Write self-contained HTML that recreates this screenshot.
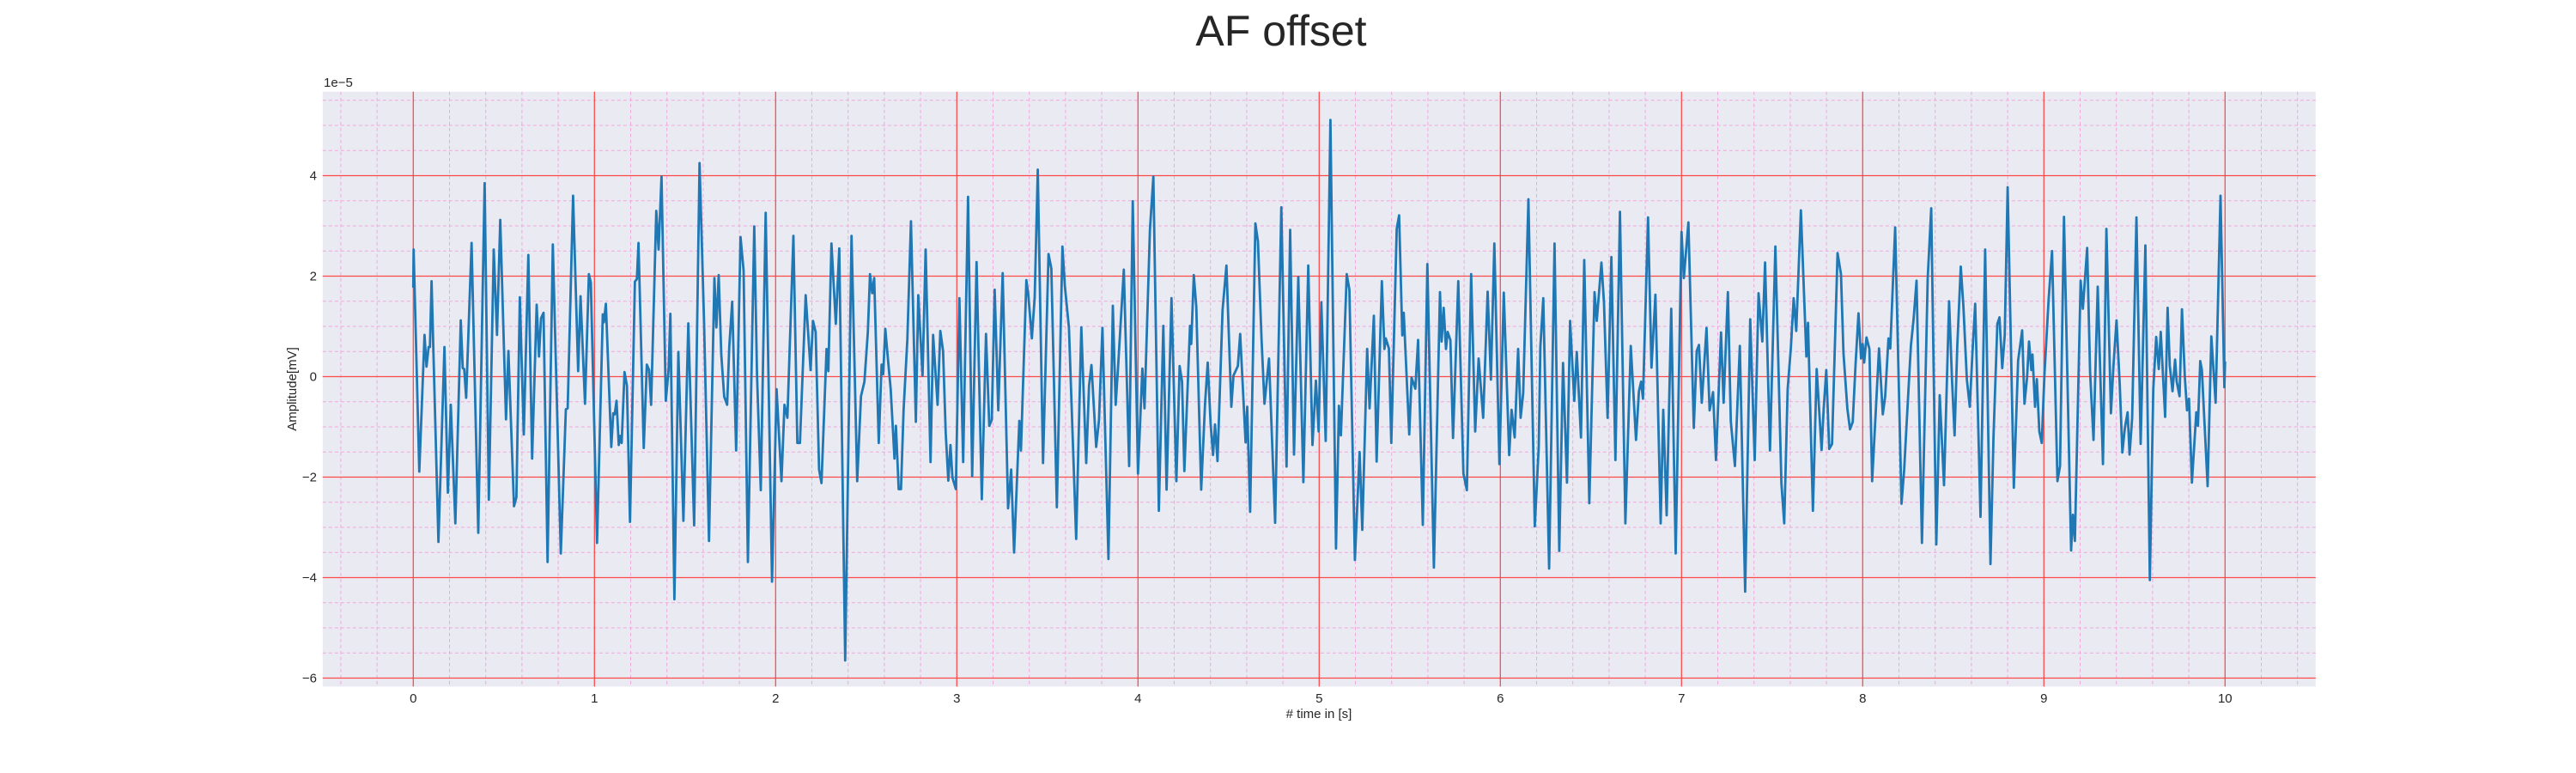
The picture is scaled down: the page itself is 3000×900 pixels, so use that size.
<!DOCTYPE html>
<html><head><meta charset="utf-8"><style>
html,body{margin:0;padding:0;background:#fff;}
svg{display:block;font-family:"Liberation Sans",Arial,sans-serif;}
</style></head><body>
<svg id="chart" width="3000" height="900" viewBox="0 0 3000 900" xmlns="http://www.w3.org/2000/svg">
<rect x="0" y="0" width="3000" height="900" fill="#ffffff"/>
<text x="1492" y="53" font-size="50" fill="#262626" text-anchor="middle">AF offset</text>
<rect x="375.8" y="106.8" width="2321" height="692.6" fill="#eaeaf2"/>
<g id="grid"></g>
<g id="series"></g>
<g id="ticks"></g>
<text x="377" y="101" font-size="15" fill="#262626">1e−5</text>
<text x="0" y="0" font-size="15" fill="#262626" text-anchor="middle" transform="translate(345,453) rotate(-90)">Amplitude[mV]</text>
<text x="1536" y="836" font-size="15" fill="#262626" text-anchor="middle"># time in [s]</text>
</svg>
<script>
const xTicks = [0,1,2,3,4,5,6,7,8,9,10];
const yTicks = [-6,-4,-2,0,2,4];
const yTickLabels = ["−6","−4","−2","0","2","4"];
const times = [0.0,0.002,0.033,0.062,0.073,0.085,0.092,0.101,0.139,0.172,0.191,0.207,0.232,0.262,0.273,0.281,0.292,0.322,0.359,0.394,0.417,0.444,0.462,0.48,0.512,0.525,0.556,0.569,0.588,0.61,0.635,0.656,0.681,0.694,0.705,0.719,0.741,0.77,0.814,0.842,0.852,0.882,0.91,0.923,0.948,0.969,0.98,1.014,1.046,1.052,1.063,1.093,1.104,1.112,1.122,1.134,1.142,1.15,1.166,1.179,1.196,1.223,1.234,1.243,1.272,1.289,1.302,1.313,1.341,1.354,1.37,1.394,1.409,1.419,1.441,1.463,1.491,1.518,1.55,1.58,1.605,1.632,1.662,1.673,1.686,1.70,
1.716,1.732,1.744,1.76,1.782,1.806,1.823,1.847,1.882,1.897,1.918,1.945,1.98,2.005,2.032,2.049,2.065,2.098,2.12,2.134,2.166,2.193,2.206,2.221,2.24,2.253,2.281,2.291,2.308,2.332,2.351,2.384,2.419,2.45,2.471,2.49,2.509,2.521,2.533,2.544,2.569,2.585,2.594,2.605,2.621,2.635,2.656,2.664,2.679,2.692,2.706,2.727,2.747,2.774,2.787,2.811,2.828,2.855,2.869,2.894,2.909,2.924,2.939,2.953,2.965,2.976,2.995,3.014,3.035,3.062,3.085,3.109,3.138,3.161,3.179,3.193,3.209,3.229,3.253,3.283,3.3,3.316,3.345,3.354,3.384,3.395,3.414,3.43,3.447,3.476,3.506,3.522,3.552,3.583,3.596,3.619,3.659,3.687,3.714,3.73,3.743,3.769,3.785,
3.804,3.837,3.861,3.877,3.889,3.922,3.951,3.971,4.0,4.024,4.036,4.066,4.085,4.115,4.14,4.158,4.185,4.212,4.23,4.243,4.256,4.287,4.294,4.308,4.322,4.349,4.37,4.385,4.401,4.414,4.425,4.439,4.467,4.488,4.515,4.527,4.551,4.564,4.594,4.603,4.619,4.648,4.662,4.682,4.698,4.723,4.757,4.791,4.82,4.84,4.861,4.885,4.913,4.94,4.963,4.982,4.997,5.012,5.036,5.062,5.093,5.109,5.12,5.152,5.167,5.197,5.223,5.238,5.265,5.278,5.302,5.317,5.346,5.36,5.368,5.385,5.398,5.428,5.441,5.459,5.467,5.497,5.51,5.531,5.546,5.572,5.597,5.633,5.667,5.676,5.687,5.7,5.709,5.724,5.739,5.768,5.796,5.815,5.839,5.861,
5.88,5.905,5.93,5.948,5.967,5.995,6.019,6.049,6.062,6.079,6.098,6.112,6.126,6.155,6.19,6.212,6.221,6.237,6.269,6.299,6.325,6.346,6.368,6.385,6.408,6.422,6.445,6.463,6.491,6.52,6.532,6.558,6.572,6.592,6.613,6.635,6.66,6.69,6.72,6.749,6.765,6.777,6.787,6.815,6.834,6.856,6.885,6.899,6.918,6.943,6.968,7.0,7.013,7.038,7.068,7.084,7.096,7.112,7.138,7.155,7.174,7.19,7.218,7.232,7.256,7.272,7.295,7.322,7.351,7.379,7.404,7.425,7.446,7.461,7.488,7.518,7.551,7.567,7.586,7.604,7.619,7.633,7.659,7.689,7.698,7.725,7.746,7.773,7.785,7.799,7.815,7.831,7.861,7.88,7.894,7.915,7.93,
7.945,7.961,7.977,7.991,8.0,8.008,8.021,8.037,8.052,8.09,8.111,8.124,8.142,8.152,8.179,8.214,8.229,8.24,8.266,8.281,8.297,8.327,8.359,8.378,8.406,8.425,8.449,8.477,8.493,8.507,8.522,8.541,8.556,8.575,8.591,8.605,8.621,8.65,8.676,8.705,8.722,8.743,8.755,8.77,8.784,8.8,8.834,8.858,8.88,8.893,8.907,8.918,8.931,8.937,8.951,8.961,8.975,8.988,9.003,9.026,9.045,9.075,9.089,9.111,9.15,9.16,9.171,9.203,9.215,9.239,9.255,9.274,9.297,9.326,9.345,9.37,9.384,9.401,9.419,9.433,9.447,9.462,9.473,9.487,9.511,9.534,9.56,9.585,9.604,9.62,9.634,9.645,9.669,9.683,9.695,9.71,9.724,9.733,9.749,9.762,9.778,9.79,9.801,9.817,9.841,9.85,9.863,9.872,9.904,9.924,9.948,9.975,9.996,10.0];
const amplitudes = [1.77,2.53,-1.89,0.83,0.2,0.59,0.59,1.9,-3.29,0.59,-2.31,-0.56,-2.92,1.12,0.17,0.15,-0.42,2.66,-3.11,3.85,-2.45,2.53,0.83,3.12,-0.85,0.51,-2.58,-2.4,1.58,-1.15,2.42,-1.63,1.43,0.4,1.16,1.27,-3.69,2.63,-3.52,-0.65,-0.63,3.6,0.11,1.6,-0.54,2.04,1.87,-3.31,1.24,1.08,1.45,-1.4,-0.73,-0.75,-0.48,-1.36,-1.18,-1.32,0.09,-0.18,-2.89,1.89,1.94,2.66,-1.42,0.24,0.13,-0.56,3.3,2.53,3.98,-0.48,0.13,1.25,-4.43,0.49,-2.87,1.06,-2.96,4.25,1.05,-3.27,1.96,0.98,2.02,0.44,
-0.4,-0.56,0.59,1.49,-1.47,2.78,2.11,-3.69,2.99,0.05,-2.26,3.26,-4.08,-0.25,-2.08,-0.56,-0.82,2.8,-1.32,-1.32,1.62,0.13,1.11,0.89,-1.85,-2.12,0.55,0.11,2.65,1.05,2.55,-5.65,2.8,-2.08,-0.39,-0.1,0.89,2.04,1.66,1.96,-1.32,0.24,0.05,0.95,0.31,-0.25,-1.63,-0.98,-2.24,-2.24,-0.67,0.74,3.09,-0.9,1.62,0.02,2.53,-1.7,0.83,-0.56,0.91,0.51,-1.13,-2.07,-1.36,-2.01,-2.24,1.56,-1.7,3.58,-1.98,2.28,-2.44,0.85,-0.98,-0.86,1.73,-0.67,2.06,-2.62,-1.85,-3.5,-0.88,-1.47,1.92,1.62,0.76,1.58,4.12,-1.72,2.44,2.15,-2.6,2.59,1.81,0.97,-3.23,0.98,-1.72,-0.18,0.23,-1.4,-0.86,
0.97,-3.63,1.41,-0.56,0.13,2.13,-1.78,3.49,-1.93,0.16,-0.63,2.92,3.98,-2.67,1.01,-2.25,1.56,-2.08,0.21,-0.1,-1.88,1.01,0.65,2.02,1.39,-2.25,-0.54,0.28,-0.94,-1.56,-0.95,-1.68,1.33,2.21,-0.6,0.02,0.21,0.85,-1.31,-0.6,-2.69,3.05,2.69,0.74,-0.54,0.36,-2.91,3.37,-1.79,2.92,-1.55,1.98,-2.1,2.21,-1.36,-0.08,-1.09,1.48,-1.28,5.11,-3.42,-0.58,-1.17,2.04,1.73,-3.65,-1.5,-3.05,0.55,-0.63,1.21,-1.69,1.9,0.55,0.76,0.56,-1.32,2.94,3.21,0.82,1.27,-1.15,-0.02,-0.24,0.73,-2.95,2.24,-3.8,1.68,0.7,1.37,0.55,0.89,0.73,-1.22,1.9,-1.93,-2.26,2.04,-1.09,
0.36,-0.82,1.69,-0.06,2.65,-1.74,1.67,-1.56,-0.66,-1.21,0.55,-0.82,-0.33,3.53,-2.98,-1.4,0.59,1.56,-3.82,2.65,-3.47,0.27,-2.11,1.11,-0.48,0.49,-1.21,2.32,-2.52,1.68,1.11,2.27,1.47,-0.82,2.38,-1.66,3.28,-2.92,0.61,-1.26,-0.29,-0.1,-0.44,3.17,0.18,1.63,-2.92,-0.66,-2.76,1.35,-3.52,2.88,1.96,3.07,-1.02,0.51,0.63,-0.52,0.97,-0.67,-0.31,-1.66,0.88,-0.52,1.68,-0.89,-1.78,0.61,-4.28,1.14,-1.66,1.66,0.7,2.27,-1.47,2.59,-2.12,-2.92,-0.25,0.59,1.56,0.91,3.31,0.4,1.07,-2.67,0.15,-1.46,-0.63,0.13,-1.44,-1.34,2.46,2.04,0.47,-0.63,-1.05,
-0.9,0.28,1.26,0.36,0.65,0.28,0.78,0.55,-2.08,0.56,-0.75,-0.39,0.76,0.56,2.97,-2.53,-1.85,-1.11,0.61,1.15,1.91,-3.31,1.96,3.35,-3.34,-0.37,-2.16,1.5,-0.06,-1.17,0.59,2.19,1.39,-0.06,-0.6,0.44,1.45,-2.79,2.53,-3.73,-1.21,1.05,1.18,0.17,0.82,3.77,-2.21,0.32,0.92,-0.54,-0.02,0.7,0.13,0.44,-0.6,-0.05,-1.09,-1.32,0.02,1.53,2.5,-2.08,-1.78,3.18,-3.46,-2.75,-3.27,1.91,1.35,2.56,0.09,-1.26,1.79,-1.74,2.94,-0.73,0.21,1.12,-0.18,-1.51,-1.02,-0.71,-1.55,-0.82,3.17,-1.34,2.61,-4.05,-0.25,0.79,0.15,0.89,-0.8,1.37,0.22,-0.29,0.34,-0.1,-0.39,1.34,-0.02,-0.67,-0.44,-2.11,-0.71,-0.98,0.31,0.13,-2.18,0.8,-0.52,3.6,-0.21,0.3];

const X0=481.3, XS=211, Y0=438.5, YS=58.5;
const PL=375.8, PR=2696.8, PT=106.8, PB=799.4;
function xs(t){return X0+t*XS;}
function ys(v){return Y0-v*YS;}
const NS="http://www.w3.org/2000/svg";
const grid=document.getElementById('grid');
const ticks=document.getElementById('ticks');
function mk(tag,attrs,parent){const e=document.createElementNS(NS,tag);for(const k in attrs)e.setAttribute(k,attrs[k]);parent.appendChild(e);return e;}
// minor grid
for(let i=-2;i<=52;i++){
  if(i%5===0) continue;
  const x=xs(i*0.2);
  if(x<PL||x>PR) continue;
  const l=mk('line',{x1:x,x2:x,y1:PT,y2:PB,stroke:'#f0a8dc','stroke-width':1,'stroke-dasharray':'4,3'},grid);
  
  
}
for(let i=-13;i<=12;i++){
  if(i%4===0) continue;
  const y=ys(i*0.5);
  if(y<PT||y>PB) continue;
  const l=mk('line',{x1:PL,x2:PR,y1:y,y2:y,stroke:'#f0a8dc','stroke-width':1,'stroke-dasharray':'4,3'},grid);
  
  
}
xTicks.forEach(t=>{
  const x=xs(t);
  const l=mk('line',{x1:x,x2:x,y1:PT,y2:PB,stroke:'#ff4a4a','stroke-width':1.3},grid);
  
  
  const tx=mk('text',{x:x,y:818,'font-size':15,fill:'#262626','text-anchor':'middle'},ticks);
  tx.textContent=String(t);
  
  
});
yTicks.forEach((v,i)=>{
  const y=ys(v);
  const l=mk('line',{x1:PL,x2:PR,y1:y,y2:y,stroke:'#ff4a4a','stroke-width':1.3},grid);
  
  
  const tx=mk('text',{x:369,y:y+5,'font-size':15,fill:'#262626','text-anchor':'end'},ticks);
  tx.textContent=yTickLabels[i];
  
  
});
let d='';
times.forEach((t,i)=>{d+=(i?'L':'M')+xs(t).toFixed(1)+','+ys(amplitudes[i]).toFixed(1);});
const p=mk('path',{d:d,fill:'none',stroke:'#1f77b4','stroke-width':2.8,'stroke-linejoin':'round'},document.getElementById('series'));


</script>
</body></html>
